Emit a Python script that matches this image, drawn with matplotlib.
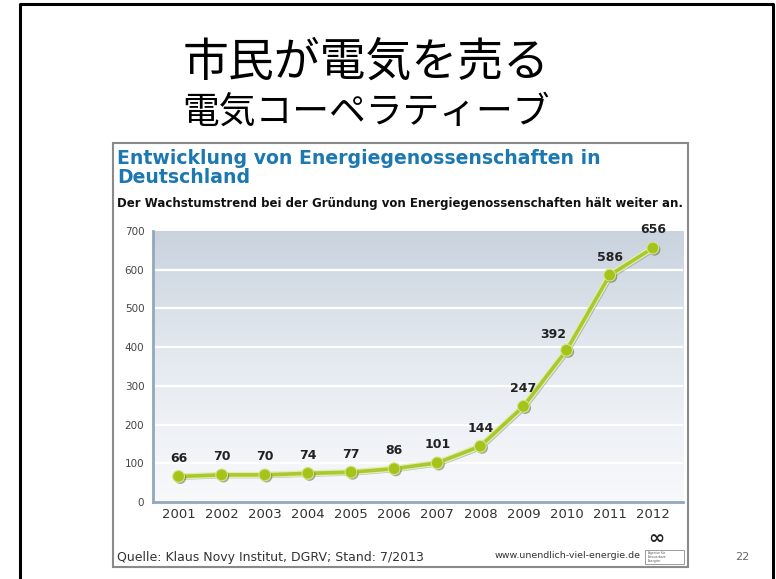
import numpy as np
import matplotlib
matplotlib.use('Agg')
import matplotlib.pyplot as plt
import matplotlib.patheffects as pe
from matplotlib.patches import Rectangle
from matplotlib.colors import LinearSegmentedColormap

# data
years = [2001, 2002, 2003, 2004, 2005, 2006, 2007, 2008, 2009, 2010, 2011, 2012]
counts = [66, 70, 70, 74, 77, 86, 101, 144, 247, 392, 586, 656]
yticks = [0, 100, 200, 300, 400, 500, 600, 700]

slide_title = '市民が電気を売る'
slide_subtitle = '電気コーペラティーブ'
chart_title = 'Entwicklung von Energiegenossenschaften in\nDeutschland'
chart_subtitle = 'Der Wachstumstrend bei der Gründung von Energiegenossenschaften hält weiter an.'
source_text = 'Quelle: Klaus Novy Institut, DGRV; Stand: 7/2013'
url_text = 'www.unendlich-viel-energie.de'
page_no = '22'

W, H = 776, 579
plt.rcParams['font.family'] = ['DejaVu Sans']

fig = plt.figure(figsize=(W/100, H/100), dpi=100, facecolor='white')

def fx(x):
    return x / W

def fy(y):
    return 1 - y / H

# slide frame (left, top, right)
fig.add_artist(plt.Line2D([fx(20), fx(20), fx(773), fx(773)],
                          [fy(585), fy(4), fy(4), fy(585)],
                          color='black', lw=2.2, transform=fig.transFigure))

# slide titles
jp = ['Noto Sans CJK JP', 'DejaVu Sans']
fig.text(fx(366), fy(62), slide_title, family=jp, fontsize=33,
         ha='center', va='center', color='black')
fig.text(fx(366), fy(112), slide_subtitle, family=jp, fontsize=26.5,
         ha='center', va='center', color='black')

# chart frame
fig.add_artist(Rectangle((fx(113), fy(567)), fx(688) - fx(113), fy(143) - fy(567),
                         transform=fig.transFigure, fill=False,
                         edgecolor='#8a8a8a', lw=1.5))

fig.text(fx(117), fy(168), chart_title, fontsize=13.6, fontweight='bold',
         color='#1c78b0', ha='left', va='center', linespacing=0.95)
fig.text(fx(117), fy(203), chart_subtitle, fontsize=8.5, fontweight='bold',
         color='#111111', ha='left', va='center')

# plot area
ax_l, ax_r, ax_t, ax_b = 152.7, 683, 231, 502
ax = fig.add_axes([fx(ax_l), fy(ax_b), fx(ax_r) - fx(ax_l), (ax_b - ax_t) / H])
ax.set_xlim(2000.4, 2012.7)
ax.set_ylim(0, 700)

cmap = LinearSegmentedColormap.from_list('bg', ['#f8f9fb', '#e6ebf1', '#c9d3de'])
grad = np.linspace(0, 1, 256).reshape(-1, 1)
ax.imshow(grad, extent=[2000.4, 2012.7, 0, 700], origin='lower', aspect='auto',
          cmap=cmap, zorder=0)

for y in yticks[1:-1]:
    ax.axhline(y, color='white', lw=1.6, zorder=1)

shadow = [pe.SimpleLineShadow(offset=(1.2, -1.2), shadow_color='#777777', alpha=0.45),
          pe.Stroke(linewidth=4.5, foreground='#e3edb0'), pe.Normal()]
ax.plot(years, counts, color='#a8c930', lw=2.6, zorder=3, path_effects=shadow)
ax.plot(years, counts, 'o', ms=8.5, color='#a4c41a', mec='#d5e48c', mew=0.8, zorder=4,
        path_effects=[pe.SimplePatchShadow(offset=(1.2, -1.2), alpha=0.4), pe.Normal()])

label_offsets = [(0, 13)] * len(years)
label_offsets[9] = (-10, 11)
for x, v, off in zip(years, counts, label_offsets):
    ax.annotate(str(v), (x, v), xytext=off, textcoords='offset points',
                ha='center', va='center', fontsize=9, fontweight='bold', color='#222222')

ax.set_xticks(years)
ax.set_xticklabels([str(y) for y in years], fontsize=9.5, color='#333333')
ax.set_yticks(yticks)
ax.set_yticklabels([str(y) for y in yticks], fontsize=7.5, color='#444444')
ax.tick_params(length=0)
ax.tick_params(axis='x', pad=4)
ax.tick_params(axis='y', pad=6)
for s in ['top', 'right']:
    ax.spines[s].set_visible(False)
for s in ['left', 'bottom']:
    ax.spines[s].set_color('#93a8ba')
    ax.spines[s].set_linewidth(2)

# footer
fig.text(fx(117), fy(557), source_text, fontsize=9, color='#333333',
         ha='left', va='center')
fig.text(fx(641), fy(556), url_text, fontsize=6.8, color='#333333',
         ha='right', va='center')
fig.text(fx(656), fy(538), '∞', fontsize=14, fontweight='bold', color='#222222',
         ha='center', va='center')
fig.add_artist(Rectangle((fx(645), fy(564)), fx(684) - fx(645), fy(550) - fy(564),
                         transform=fig.transFigure, fill=False,
                         edgecolor='#999999', lw=0.7))
fig.text(fx(648), fy(557), 'Agentur für\nErneuerbare\nEnergien', fontsize=2.2,
         color='#555555', ha='left', va='center', linespacing=1.0)

fig.text(fx(742), fy(557), page_no, fontsize=8, color='#666666', ha='center', va='center')

fig.savefig('out.png', dpi=100, facecolor='white')
